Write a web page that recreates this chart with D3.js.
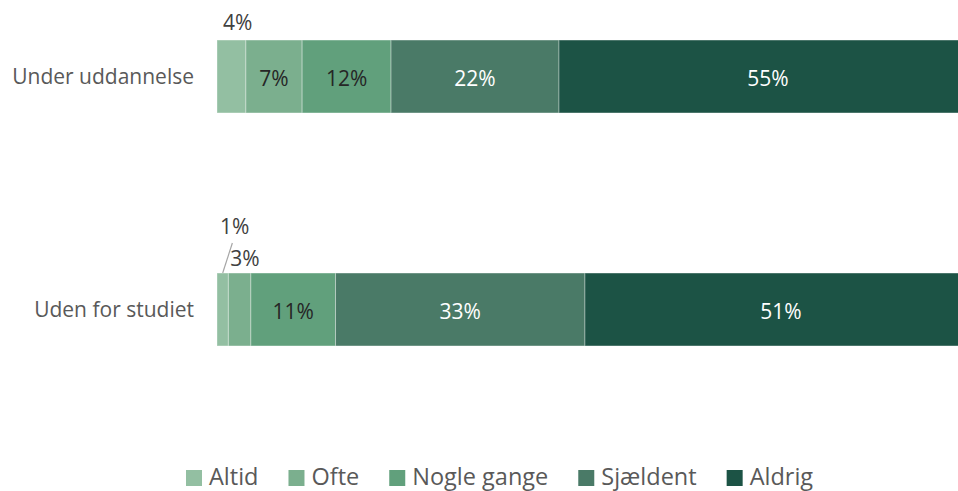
<!DOCTYPE html>
<html>
<head>
<meta charset="utf-8">
<script src="https://cdn.jsdelivr.net/npm/d3@7/dist/d3.min.js"></script>
<style>
  html, body { margin: 0; padding: 0; background: #ffffff; overflow: hidden; }
  svg { display: block; font-family: "Open Sans", "Noto Sans", sans-serif; }
</style>
</head>
<body>
<svg id="chart" width="958" height="491"></svg>
<script>
// ---- data ----
const categories = ["Under uddannelse", "Uden for studiet"];
const seriesNames = ["Altid", "Ofte", "Nogle gange", "Sjældent", "Aldrig"];
const altid      = [3.8, 1.49];
const ofte       = [7.4, 2.95];
const nogleGange = [11.7, 11.1];
const sjaeldent  = [22.1, 32.7];
const aldrig     = [55.0, 51.4];
const seriesColors = ["#93bfa2", "#7baf8e", "#61a07c", "#4a7a67", "#1c5345"];
const labelColors  = ["#404040", "#262626", "#262626", "#ffffff", "#ffffff"];

const seriesValues = [altid, ofte, nogleGange, sjaeldent, aldrig];
const rows = categories.map((c, i) => {
  const r = { category: c };
  seriesNames.forEach((s, j) => { r[s] = seriesValues[j][i]; });
  return r;
});

const svg = d3.select("#chart");

const x = d3.scaleLinear().domain([0, 1]).range([217, 977]);
const y = d3.scaleBand().domain(categories).range([-40, 426])
  .paddingInner(0.687).paddingOuter(0.3435);

const stack = d3.stack().keys(seriesNames).offset(d3.stackOffsetExpand);
const layers = stack(rows);

const g = svg.append("g");
layers.forEach((layer, li) => {
  g.selectAll(null)
    .data(layer)
    .join("rect")
    .attr("x", d => x(d[0]))
    .attr("y", d => y(d.data.category))
    .attr("width", d => x(d[1]) - x(d[0]))
    .attr("height", y.bandwidth())
    .attr("fill", seriesColors[li])
    .attr("stroke", "rgba(255,255,255,0.35)")
    .attr("stroke-width", 1);
});

const FS = 21;

// in-bar labels
layers.forEach((layer, li) => {
  layer.forEach(d => {
    const v = d.data[layer.key];
    const label = Math.round(v) + "%";
    const cx = (x(d[0]) + x(d[1])) / 2;
    const cy = y(d.data.category) + y.bandwidth() / 2;
    const w = x(d[1]) - x(d[0]);
    if (w > 40) {
      svg.append("text")
        .attr("x", cx).attr("y", cy + 9.5)
        .attr("text-anchor", "middle")
        .attr("font-size", FS)
        .attr("fill", labelColors[li])
        .text(label);
    }
  });
});

// outside labels for small segments
const top1 = y(categories[0]);
const top2 = y(categories[1]);
const L0 = layers[0], L1 = layers[1];
svg.append("text").attr("x", x(L0[0][0]) + 6).attr("y", top1 - 10)
  .attr("font-size", FS).attr("fill", "#404040")
  .text(Math.round(L0[0].data["Altid"]) + "%");
svg.append("text").attr("x", x(L0[1][0]) + 3).attr("y", top2 - 39)
  .attr("font-size", FS).attr("fill", "#404040")
  .text(Math.round(L0[1].data["Altid"]) + "%");
svg.append("text").attr("x", x(L1[1][0]) + 2).attr("y", top2 - 7)
  .attr("font-size", FS).attr("fill", "#404040")
  .text(Math.round(L1[1].data["Ofte"]) + "%");
svg.append("line")
  .attr("x1", (x(L0[1][0]) + x(L0[1][1])) / 2).attr("y1", top2)
  .attr("x2", x(L1[1][0]) + 4).attr("y2", top2 - 30)
  .attr("stroke", "#a6a6a6").attr("stroke-width", 1.2);

// category labels
svg.selectAll(".cat")
  .data(categories)
  .join("text")
  .attr("class", "cat")
  .attr("x", 194)
  .attr("y", d => y(d) + y.bandwidth() / 2 + 7.5)
  .attr("text-anchor", "end")
  .attr("font-size", FS)
  .attr("fill", "#595959")
  .text(d => d);

// legend
const legend = svg.append("g");
let lx = 186;
seriesNames.forEach((s, i) => {
  legend.append("rect")
    .attr("x", lx).attr("y", 470).attr("width", 16).attr("height", 16)
    .attr("fill", seriesColors[i]);
  const t = legend.append("text")
    .attr("x", lx + 23).attr("y", 485)
    .attr("font-size", 23.5)
    .attr("fill", "#595959")
    .text(s);
  lx += 23 + t.node().getComputedTextLength() + 30;
});
</script>
</body>
</html>
